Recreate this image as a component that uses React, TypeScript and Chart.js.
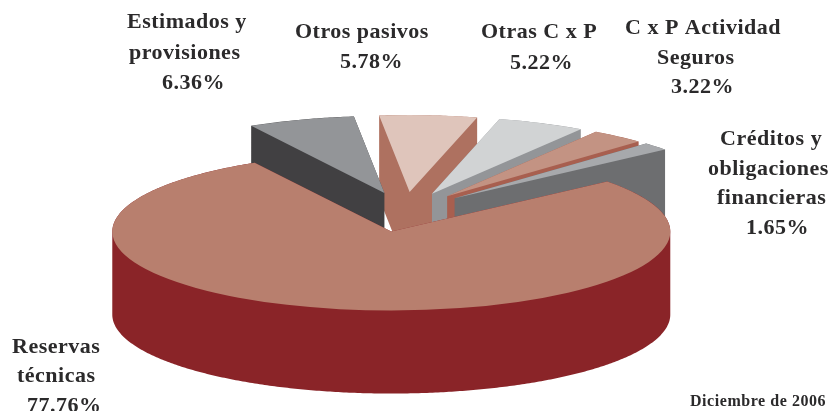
import React, { useEffect, useRef } from "react";
import { Chart, registerables } from "chart.js";

Chart.register(...registerables);

// ---- data ----
const categories = [
  "Reservas técnicas",
  "Estimados y provisiones",
  "Otros pasivos",
  "Otras C x P",
  "C x P Actividad Seguros",
  "Créditos y obligaciones financieras",
];
const shares = [77.76, 6.36, 5.78, 5.22, 3.22, 1.65];
const labelLines = [
  ["Reservas", "técnicas"],
  ["Estimados y", "provisiones"],
  ["Otros pasivos"],
  ["Otras C x P"],
  ["C x P Actividad", "Seguros"],
  ["Créditos y", "obligaciones", "financieras"],
];
const footnote = "Diciembre de 2006";

// ---- styling ----
const topColors = ["#b87f6e", "#939598", "#dfc5bb", "#d1d3d4", "#c39383", "#a7a9ac"];
const wallColors = ["#8a2428", "#414042", "#ae7160", "#939598", "#a85f4f", "#6d6e70"];
const paintOrder = [2, 3, 4, 5, 1, 0];
const labelAnchors = [
  [[12, 353], [17, 382], [27, 412]],
  [[127, 28], [129, 59], [162, 89]],
  [[295, 38], [340, 68]],
  [[481, 38], [510, 69]],
  [[625, 34], [657, 64], [671, 93]],
  [[720, 145], [708, 175], [717, 204], [746, 234]],
];
const SQUASH = 0.283;
const EXPLODE = 67;
const MAIN_EXPLODE = 74;
const RADIUS = 272;
const MAIN_RADIUS = 279;
const DEPTH = 83;
const CENTER_Y = 211;

type Pt = [number, number];

// Adds a polygon to the current path, always wound the same way, so that one
// nonzero fill gives the union of all the pieces without seams.
function addPolygon(ctx: CanvasRenderingContext2D, pts: Pt[]) {
  let area = 0;
  pts.forEach((p, n) => {
    const q = pts[(n + 1) % pts.length];
    area += p[0] * q[1] - q[0] * p[1];
  });
  const ordered = area < 0 ? [...pts].reverse() : pts;
  ordered.forEach((p, n) => (n ? ctx.lineTo(p[0], p[1]) : ctx.moveTo(p[0], p[1])));
  ctx.closePath();
}

const pie3d = {
  id: "pie3d",
  afterDatasetsUpdate(chart: any) {
    chart.getDatasetMeta(0).data[0].outerRadius = MAIN_RADIUS;
  },
  beforeDatasetsDraw(chart: any) {
    const ctx = chart.ctx;
    const arcs = chart.getDatasetMeta(0).data;
    for (const i of paintOrder) {
      const arc = arcs[i];
      const mid = (arc.startAngle + arc.endAngle) / 2;
      const explode = i === 0 ? MAIN_EXPLODE : EXPLODE;
      const ox = arc.x + Math.cos(mid) * explode;
      const oy = CENTER_Y + Math.sin(mid) * explode * SQUASH;

      // side wall: the sector's outline swept straight down
      const outline: Pt[] = [[ox, oy]];
      const steps = Math.ceil((arc.endAngle - arc.startAngle) / 0.01);
      for (let s = 0; s <= steps; s++) {
        const a = arc.startAngle + ((arc.endAngle - arc.startAngle) * s) / steps;
        outline.push([ox + Math.cos(a) * arc.outerRadius, oy + Math.sin(a) * arc.outerRadius * SQUASH]);
      }
      const down = (p: Pt): Pt => [p[0], p[1] + DEPTH];
      ctx.save();
      ctx.beginPath();
      addPolygon(ctx, outline.map(down));
      outline.forEach((p, n) => {
        const q = outline[(n + 1) % outline.length];
        addPolygon(ctx, [p, q, down(q), down(p)]);
      });
      ctx.fillStyle = wallColors[i];
      ctx.fill("nonzero");
      ctx.restore();

      // top face: the library's own arc element under a squashing transform
      ctx.save();
      ctx.translate(Math.cos(mid) * explode, oy);
      ctx.scale(1, SQUASH);
      ctx.translate(0, -arc.y);
      arc.draw(ctx);
      ctx.restore();
    }
    return false;
  },
  afterDraw(chart: any) {
    const ctx = chart.ctx;
    ctx.save();
    ctx.fillStyle = "#2b2a2b";
    ctx.textAlign = "left";
    ctx.textBaseline = "alphabetic";
    ctx.font = 'bold 22px "Liberation Serif"';
    ctx.letterSpacing = "0.5px";
    labelLines.forEach((lines, i) => {
      const all = [...lines, shares[i].toFixed(2) + "%"];
      all.forEach((t, j) => {
        const [x, y] = labelAnchors[i][j];
        ctx.fillText(t, x, y);
      });
    });
    ctx.font = 'bold 16px "Liberation Serif"';
    ctx.letterSpacing = "0.55px";
    ctx.fillText(footnote, 690, 406);
    ctx.restore();
  },
};

export default function App() {
  const ref = useRef<HTMLCanvasElement>(null);
  useEffect(() => {
    const chart = new Chart(ref.current!, {
      type: "pie",
      data: {
        labels: categories,
        datasets: [{ data: shares, backgroundColor: topColors, borderWidth: 0 }],
      },
      options: {
        responsive: false,
        animation: false,
        rotation: 50.7,
        radius: RADIUS,
        layout: { padding: { right: 20 } },
        plugins: { legend: { display: false }, tooltip: { enabled: false } },
      },
      plugins: [pie3d],
    } as any);
    return () => chart.destroy();
  }, []);
  return (
    <div style={{ position: "fixed", left: 0, top: 0 }}>
      <canvas ref={ref} width={830} height={411} style={{ display: "block", background: "#fff" }} />
    </div>
  );
}
